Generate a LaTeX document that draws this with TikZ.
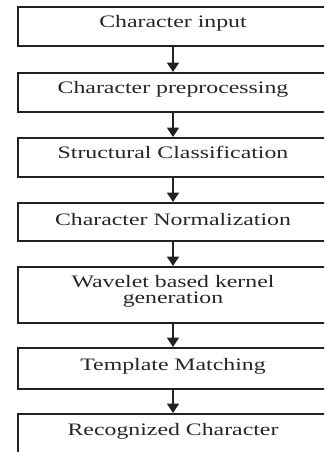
\documentclass[tikz,border=0pt]{standalone}
\usepackage{fontspec}
\setmainfont{Liberation Serif}
\usetikzlibrary{arrows.meta}
\definecolor{ink}{HTML}{222222}
\definecolor{txt}{HTML}{262626}
\begin{document}
\begin{tikzpicture}[x=1pt,y=-1pt,
  box/.style={draw=ink, line width=1.9pt, rectangle, inner sep=0pt, minimum width=310pt},
  lbl/.style={anchor=base, inner sep=0pt, text=txt, xscale=1.36, transform shape, font=\fontsize{17.5}{18}\selectfont},
  arr/.style={draw=ink, line width=1.7pt, -{Triangle[width=12pt,length=9.5pt]}}]
\useasboundingbox (0,0) rectangle (324,452);
\fill[white] (0,0) rectangle (324,452);
\clip (0,0) rectangle (324,452);
\node[box, minimum height=39pt] (b1) at (173,26.5) {};
\node[box, minimum height=39pt] (b2) at (173,92.5) {};
\node[box, minimum height=39pt] (b3) at (173,157.5) {};
\node[box, minimum height=38pt] (b4) at (173,222) {};
\node[box, minimum height=56pt] (b5) at (173,295) {};
\node[box, minimum height=41pt] (b6) at (173,368.5) {};
\node[box, minimum height=56pt] (b7) at (173,442) {};
\node[lbl] (t1) at (173,28) {Character input};
\node[lbl] (t2) at (173,93) {Character preprocessing};
\node[lbl] (t3) at (173,158) {Structural Classification};
\node[lbl] (t4) at (173,225) {Character Normalization};
\node[lbl] (t5a) at (173,287) {Wavelet based kernel};
\node[lbl] (t5b) at (173,303.5) {generation};
\node[lbl] (t6) at (173,370) {Template Matching};
\node[lbl] (t7) at (173,435) {Recognized Character};
\draw[arr] (b1.south) -- (b2.north);
\draw[arr] (b2.south) -- (b3.north);
\draw[arr] (b3.south) -- (b4.north);
\draw[arr] (b4.south) -- (b5.north);
\draw[arr] (b5.south) -- (b6.north);
\draw[arr] (b6.south) -- (b7.north);
\end{tikzpicture}
\end{document}
